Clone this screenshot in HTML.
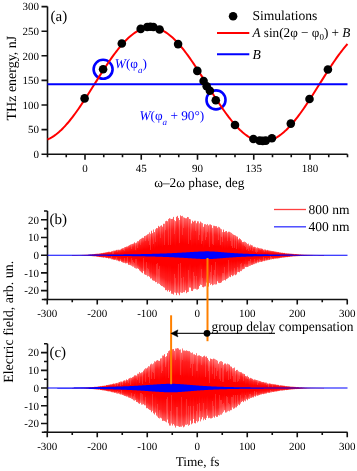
<!DOCTYPE html>
<html><head><meta charset="utf-8"><style>html,body{margin:0;padding:0;background:#fff;width:357px;height:471px;overflow:hidden}svg{display:block;will-change:transform}</style></head>
<body><svg width="357" height="471" viewBox="0 0 357 471" text-rendering="geometricPrecision" font-family='"Liberation Serif", serif'><defs><linearGradient id="rg" x1="0" y1="0" x2="0" y2="1"><stop offset="0" stop-color="#f00" stop-opacity="0.6"/><stop offset="0.15" stop-color="#f00" stop-opacity="0.88"/><stop offset="0.35" stop-color="#f00" stop-opacity="1"/><stop offset="0.65" stop-color="#f00" stop-opacity="1"/><stop offset="0.85" stop-color="#f00" stop-opacity="0.88"/><stop offset="1" stop-color="#f00" stop-opacity="0.6"/></linearGradient></defs>
<path d="M47.5,6.599999999999994 V154.2 H347.5" fill="none" stroke="#111" stroke-width="1.6"/>
<path d="M41.5,154.20 H47.5 M41.5,129.60 H47.5 M41.5,105.00 H47.5 M41.5,80.40 H47.5 M41.5,55.80 H47.5 M41.5,31.20 H47.5 M41.5,6.60 H47.5 M47.50,154.2 v3 M66.25,154.2 v3 M85.00,154.2 v5.5 M103.75,154.2 v3 M122.50,154.2 v3 M141.25,154.2 v5.5 M160.00,154.2 v3 M178.75,154.2 v3 M197.50,154.2 v5.5 M216.25,154.2 v3 M235.00,154.2 v3 M253.75,154.2 v5.5 M272.50,154.2 v3 M291.25,154.2 v3 M310.00,154.2 v5.5 M328.75,154.2 v3 M347.50,154.2 v3" fill="none" stroke="#111" stroke-width="1.6"/>
<text x="39" y="158.00" text-anchor="end" font-size="11">0</text>
<text x="39" y="133.40" text-anchor="end" font-size="11">50</text>
<text x="39" y="108.80" text-anchor="end" font-size="11">100</text>
<text x="39" y="84.20" text-anchor="end" font-size="11">150</text>
<text x="39" y="59.60" text-anchor="end" font-size="11">200</text>
<text x="39" y="35.00" text-anchor="end" font-size="11">250</text>
<text x="39" y="10.40" text-anchor="end" font-size="11">300</text>
<text x="85.00" y="171.5" text-anchor="middle" font-size="11">0</text>
<text x="141.25" y="171.5" text-anchor="middle" font-size="11">45</text>
<text x="197.50" y="171.5" text-anchor="middle" font-size="11">90</text>
<text x="253.75" y="171.5" text-anchor="middle" font-size="11">135</text>
<text x="310.00" y="171.5" text-anchor="middle" font-size="11">180</text>
<text x="50.6" y="20.8" font-size="15">(a)</text>
<text transform="translate(16,78.1) rotate(-90)" text-anchor="middle" font-size="14">THz energy, nJ</text>
<text x="199.3" y="187.4" text-anchor="middle" font-size="13.3">ω–2ω phase, deg</text>
<circle cx="103.1" cy="69.3" r="9.5" fill="none" stroke="#0000ff" stroke-width="2.6"/>
<circle cx="216" cy="99.9" r="9.5" fill="none" stroke="#0000ff" stroke-width="2.6"/>
<polyline points="47.50,139.46 48.75,138.91 50.00,138.30 51.25,137.62 52.50,136.87 53.75,136.06 55.00,135.19 56.25,134.25 57.50,133.26 58.75,132.20 60.00,131.09 61.25,129.92 62.50,128.69 63.75,127.41 65.00,126.08 66.25,124.69 67.50,123.26 68.75,121.78 70.00,120.25 71.25,118.68 72.50,117.07 73.75,115.42 75.00,113.73 76.25,112.01 77.50,110.25 78.75,108.46 80.00,106.64 81.25,104.79 82.50,102.92 83.75,101.02 85.00,99.11 86.25,97.17 87.50,95.23 88.75,93.26 90.00,91.29 91.25,89.31 92.50,87.32 93.75,85.33 95.00,83.34 96.25,81.35 97.50,79.36 98.75,77.38 100.00,75.41 101.25,73.45 102.50,71.50 103.75,69.56 105.00,67.65 106.25,65.76 107.50,63.88 108.75,62.04 110.00,60.22 111.25,58.43 112.50,56.67 113.75,54.94 115.00,53.25 116.25,51.60 117.50,49.99 118.75,48.42 120.00,46.89 121.25,45.41 122.50,43.98 123.75,42.60 125.00,41.26 126.25,39.98 127.50,38.76 128.75,37.59 130.00,36.47 131.25,35.42 132.50,34.42 133.75,33.48 135.00,32.61 136.25,31.80 137.50,31.05 138.75,30.37 140.00,29.76 141.25,29.21 142.50,28.73 143.75,28.31 145.00,27.97 146.25,27.69 147.50,27.48 148.75,27.34 150.00,27.27 151.25,27.27 152.50,27.34 153.75,27.48 155.00,27.69 156.25,27.97 157.50,28.31 158.75,28.73 160.00,29.21 161.25,29.76 162.50,30.37 163.75,31.05 165.00,31.80 166.25,32.61 167.50,33.48 168.75,34.42 170.00,35.42 171.25,36.47 172.50,37.59 173.75,38.76 175.00,39.98 176.25,41.26 177.50,42.60 178.75,43.98 180.00,45.41 181.25,46.89 182.50,48.42 183.75,49.99 185.00,51.60 186.25,53.25 187.50,54.94 188.75,56.67 190.00,58.43 191.25,60.22 192.50,62.04 193.75,63.88 195.00,65.76 196.25,67.65 197.50,69.56 198.75,71.50 200.00,73.45 201.25,75.41 202.50,77.38 203.75,79.36 205.00,81.35 206.25,83.34 207.50,85.33 208.75,87.32 210.00,89.31 211.25,91.29 212.50,93.26 213.75,95.23 215.00,97.17 216.25,99.11 217.50,101.02 218.75,102.92 220.00,104.79 221.25,106.64 222.50,108.46 223.75,110.25 225.00,112.01 226.25,113.73 227.50,115.42 228.75,117.07 230.00,118.68 231.25,120.25 232.50,121.78 233.75,123.26 235.00,124.69 236.25,126.08 237.50,127.41 238.75,128.69 240.00,129.92 241.25,131.09 242.50,132.20 243.75,133.26 245.00,134.25 246.25,135.19 247.50,136.06 248.75,136.87 250.00,137.62 251.25,138.30 252.50,138.91 253.75,139.46 255.00,139.95 256.25,140.36 257.50,140.71 258.75,140.98 260.00,141.19 261.25,141.33 262.50,141.40 263.75,141.40 265.00,141.33 266.25,141.19 267.50,140.98 268.75,140.71 270.00,140.36 271.25,139.95 272.50,139.46 273.75,138.91 275.00,138.30 276.25,137.62 277.50,136.87 278.75,136.06 280.00,135.19 281.25,134.25 282.50,133.26 283.75,132.20 285.00,131.09 286.25,129.92 287.50,128.69 288.75,127.41 290.00,126.08 291.25,124.69 292.50,123.26 293.75,121.78 295.00,120.25 296.25,118.68 297.50,117.07 298.75,115.42 300.00,113.73 301.25,112.01 302.50,110.25 303.75,108.46 305.00,106.64 306.25,104.79 307.50,102.92 308.75,101.02 310.00,99.11 311.25,97.17 312.50,95.23 313.75,93.26 315.00,91.29 316.25,89.31 317.50,87.32 318.75,85.33 320.00,83.34 321.25,81.35 322.50,79.36 323.75,77.38 325.00,75.41 326.25,73.45 327.50,71.50 328.75,69.56 330.00,67.65 331.25,65.76 332.50,63.88 333.75,62.04 335.00,60.22 336.25,58.43 337.50,56.67 338.75,54.94 340.00,53.25 341.25,51.60 342.50,49.99 343.75,48.42 345.00,46.89 346.25,45.41 347.50,43.98" fill="none" stroke="#ff0000" stroke-width="2"/>
<line x1="47.5" y1="84.34" x2="347.5" y2="84.34" stroke="#0000ff" stroke-width="2"/>
<circle cx="84.6" cy="98.4" r="4.3" fill="#000"/>
<circle cx="103.1" cy="69.3" r="4.3" fill="#000"/>
<circle cx="121.8" cy="43.5" r="4.3" fill="#000"/>
<circle cx="140.7" cy="28.9" r="4.3" fill="#000"/>
<circle cx="147.2" cy="27" r="4.3" fill="#000"/>
<circle cx="150.3" cy="26.8" r="4.3" fill="#000"/>
<circle cx="153.4" cy="27" r="4.3" fill="#000"/>
<circle cx="159.6" cy="29.5" r="4.3" fill="#000"/>
<circle cx="178.1" cy="44.1" r="4.3" fill="#000"/>
<circle cx="197.3" cy="70.9" r="4.3" fill="#000"/>
<circle cx="203.6" cy="81" r="4.3" fill="#000"/>
<circle cx="206.7" cy="86.3" r="4.3" fill="#000"/>
<circle cx="209.9" cy="90.8" r="4.3" fill="#000"/>
<circle cx="215.8" cy="100.3" r="4.3" fill="#000"/>
<circle cx="235" cy="125" r="4.3" fill="#000"/>
<circle cx="253.4" cy="139" r="4.3" fill="#000"/>
<circle cx="259.6" cy="140.6" r="4.3" fill="#000"/>
<circle cx="262.7" cy="140.9" r="4.3" fill="#000"/>
<circle cx="265.8" cy="140.6" r="4.3" fill="#000"/>
<circle cx="271.9" cy="138.2" r="4.3" fill="#000"/>
<circle cx="290.8" cy="123.6" r="4.3" fill="#000"/>
<circle cx="309.5" cy="99" r="4.3" fill="#000"/>
<circle cx="327.9" cy="69.5" r="4.3" fill="#000"/>
<text x="114.8" y="67.6" font-size="13.3" fill="#0000ff"><tspan font-style="italic">W</tspan>(φ<tspan font-style="italic" font-size="9" dy="5">a</tspan><tspan dy="-5">)</tspan></text>
<text x="139.4" y="119.5" font-size="13.3" fill="#0000ff"><tspan font-style="italic">W</tspan>(φ<tspan font-style="italic" font-size="9" dy="5">a</tspan><tspan dy="-5"> + 90°)</tspan></text>
<circle cx="233.1" cy="16.2" r="4.3" fill="#000"/>
<text x="252.4" y="20.4" font-size="13.6">Simulations</text>
<line x1="217" y1="32.9" x2="249.3" y2="32.9" stroke="#ff0000" stroke-width="2"/>
<text x="252.4" y="36.6" font-size="13.2"><tspan font-style="italic">A</tspan> sin(2φ − φ<tspan font-size="9" dy="3">0</tspan><tspan dy="-3">) + </tspan><tspan font-style="italic">B</tspan></text>
<line x1="217" y1="54.3" x2="249.3" y2="54.3" stroke="#0000ff" stroke-width="2"/>
<text x="252.4" y="58.6" font-size="13.6" font-style="italic">B</text>
<path d="M47.5,210.95 V299.45 H347.5 M41.8,299.45 H47.5" fill="none" stroke="#111" stroke-width="1.6"/>
<path d="M44.0,299.45 H47.5 M41.0,290.60 H47.5 M44.0,281.75 H47.5 M41.0,272.90 H47.5 M44.0,264.05 H47.5 M41.0,255.20 H47.5 M44.0,246.35 H47.5 M41.0,237.50 H47.5 M44.0,228.65 H47.5 M41.0,219.80 H47.5 M44.0,210.95 H47.5 M47.25,299.45 v5 M72.25,299.45 v2.8 M97.25,299.45 v5 M122.25,299.45 v2.8 M147.25,299.45 v5 M172.25,299.45 v2.8 M197.25,299.45 v5 M222.25,299.45 v2.8 M247.25,299.45 v5 M272.25,299.45 v2.8 M297.25,299.45 v5 M322.25,299.45 v2.8 M347.25,299.45 v5" fill="none" stroke="#111" stroke-width="1.6"/>
<text x="39" y="223.60" text-anchor="end" font-size="11">20</text>
<text x="39" y="241.30" text-anchor="end" font-size="11">10</text>
<text x="39" y="259.00" text-anchor="end" font-size="11">0</text>
<text x="39" y="276.70" text-anchor="end" font-size="11">-10</text>
<text x="39" y="294.40" text-anchor="end" font-size="11">-20</text>
<text x="47.25" y="317.15" text-anchor="middle" font-size="11">-300</text>
<text x="97.25" y="317.15" text-anchor="middle" font-size="11">-200</text>
<text x="147.25" y="317.15" text-anchor="middle" font-size="11">-100</text>
<text x="197.25" y="317.15" text-anchor="middle" font-size="11">0</text>
<text x="247.25" y="317.15" text-anchor="middle" font-size="11">100</text>
<text x="297.25" y="317.15" text-anchor="middle" font-size="11">200</text>
<text x="347.25" y="317.15" text-anchor="middle" font-size="11">300</text>
<text x="49.4" y="223.95" font-size="15">(b)</text>
<g fill="url(#rg)"><rect x="72" y="255.05" width="1" height="0.60"/><rect x="73" y="255.03" width="1" height="0.60"/><rect x="74" y="255.04" width="1" height="0.60"/><rect x="75" y="254.99" width="1" height="0.60"/><rect x="76" y="254.98" width="1" height="0.60"/><rect x="77" y="254.96" width="1" height="0.60"/><rect x="78" y="254.93" width="1" height="0.60"/><rect x="79" y="254.92" width="1" height="0.60"/><rect x="80" y="254.86" width="1" height="0.68"/><rect x="81" y="254.86" width="1" height="0.71"/><rect x="82" y="254.77" width="1" height="0.86"/><rect x="83" y="254.75" width="1" height="0.91"/><rect x="84" y="254.69" width="1" height="1.03"/><rect x="85" y="254.65" width="1" height="1.10"/><rect x="86" y="254.57" width="1" height="1.17"/><rect x="87" y="254.52" width="1" height="1.32"/><rect x="88" y="254.52" width="1" height="1.38"/><rect x="89" y="254.44" width="1" height="1.51"/><rect x="90" y="254.32" width="1" height="1.73"/><rect x="91" y="254.34" width="1" height="1.77"/><rect x="92" y="254.17" width="1" height="2.10"/><rect x="93" y="254.15" width="1" height="2.23"/><rect x="94" y="253.99" width="1" height="2.49"/><rect x="95" y="253.83" width="1" height="2.63"/><rect x="96" y="253.72" width="1" height="2.96"/><rect x="97" y="253.60" width="1" height="3.22"/><rect x="98" y="253.61" width="1" height="3.27"/><rect x="99" y="253.38" width="1" height="3.68"/><rect x="100" y="253.27" width="1" height="3.86"/><rect x="101" y="253.08" width="1" height="4.29"/><rect x="102" y="253.05" width="1" height="4.39"/><rect x="103" y="252.73" width="1" height="5.01"/><rect x="104" y="252.64" width="1" height="4.88"/><rect x="105" y="252.35" width="1" height="5.46"/><rect x="106" y="252.19" width="1" height="5.89"/><rect x="107" y="252.04" width="1" height="5.96"/><rect x="108" y="251.74" width="1" height="6.85"/><rect x="109" y="251.74" width="1" height="6.71"/><rect x="110" y="251.89" width="1" height="6.74"/><rect x="111" y="251.30" width="1" height="8.01"/><rect x="112" y="250.99" width="1" height="8.41"/><rect x="113" y="250.66" width="1" height="9.10"/><rect x="114" y="250.58" width="1" height="9.37"/><rect x="115" y="250.40" width="1" height="9.42"/><rect x="116" y="249.87" width="1" height="10.64"/><rect x="117" y="249.84" width="1" height="10.64"/><rect x="118" y="249.67" width="1" height="11.49"/><rect x="119" y="249.80" width="1" height="11.63"/><rect x="120" y="249.49" width="1" height="11.43"/><rect x="121" y="248.73" width="1" height="13.17"/><rect x="122" y="248.24" width="1" height="14.14"/><rect x="123" y="248.01" width="1" height="14.80"/><rect x="124" y="247.19" width="1" height="15.73"/><rect x="125" y="247.00" width="1" height="16.42"/><rect x="126" y="246.56" width="1" height="16.70"/><rect x="127" y="246.44" width="1" height="16.77"/><rect x="128" y="245.75" width="1" height="19.10"/><rect x="129" y="245.15" width="1" height="19.85"/><rect x="130" y="244.55" width="1" height="20.69"/><rect x="131" y="244.12" width="1" height="21.72"/><rect x="132" y="243.89" width="1" height="22.75"/><rect x="133" y="243.51" width="1" height="23.16"/><rect x="134" y="242.32" width="1" height="25.58"/><rect x="135" y="243.11" width="1" height="25.18"/><rect x="136" y="242.58" width="1" height="26.15"/><rect x="137" y="241.15" width="1" height="27.20"/><rect x="138" y="241.19" width="1" height="27.80"/><rect x="139" y="239.75" width="1" height="30.71"/><rect x="140" y="238.98" width="1" height="32.36"/><rect x="141" y="238.41" width="1" height="33.93"/><rect x="142" y="237.71" width="1" height="35.43"/><rect x="143" y="237.82" width="1" height="33.30"/><rect x="144" y="236.06" width="1" height="38.32"/><rect x="145" y="235.77" width="1" height="39.10"/><rect x="146" y="235.25" width="1" height="39.89"/><rect x="147" y="234.34" width="1" height="42.06"/><rect x="148" y="233.90" width="1" height="42.16"/><rect x="149" y="232.35" width="1" height="44.46"/><rect x="150" y="233.76" width="1" height="44.80"/><rect x="151" y="230.73" width="1" height="47.70"/><rect x="152" y="233.14" width="1" height="47.13"/><rect x="153" y="229.45" width="1" height="51.28"/><rect x="154" y="232.07" width="1" height="48.82"/><rect x="155" y="229.25" width="1" height="52.96"/><rect x="156" y="228.07" width="1" height="53.98"/><rect x="157" y="228.18" width="1" height="55.56"/><rect x="158" y="225.87" width="1" height="57.47"/><rect x="159" y="226.78" width="1" height="57.18"/><rect x="160" y="225.84" width="1" height="59.25"/><rect x="161" y="225.29" width="1" height="60.68"/><rect x="162" y="226.66" width="1" height="59.57"/><rect x="163" y="223.76" width="1" height="63.44"/><rect x="164" y="223.79" width="1" height="63.88"/><rect x="165" y="221.19" width="1" height="68.98"/><rect x="166" y="220.80" width="1" height="69.32"/><rect x="167" y="221.23" width="1" height="70.22"/><rect x="168" y="219.03" width="1" height="71.11"/><rect x="169" y="218.17" width="1" height="73.79"/><rect x="170" y="218.69" width="1" height="72.10"/><rect x="171" y="218.98" width="1" height="74.74"/><rect x="172" y="218.81" width="1" height="74.99"/><rect x="173" y="216.88" width="1" height="77.73"/><rect x="174" y="220.12" width="1" height="72.27"/><rect x="175" y="221.15" width="1" height="71.67"/><rect x="176" y="216.81" width="1" height="78.32"/><rect x="177" y="215.86" width="1" height="76.84"/><rect x="178" y="217.96" width="1" height="75.45"/><rect x="179" y="219.97" width="1" height="75.27"/><rect x="180" y="215.35" width="1" height="76.99"/><rect x="181" y="216.17" width="1" height="76.73"/><rect x="182" y="215.86" width="1" height="76.97"/><rect x="183" y="217.31" width="1" height="74.77"/><rect x="184" y="217.71" width="1" height="74.55"/><rect x="185" y="218.22" width="1" height="72.17"/><rect x="186" y="218.22" width="1" height="74.99"/><rect x="187" y="216.97" width="1" height="75.13"/><rect x="188" y="217.22" width="1" height="74.66"/><rect x="189" y="218.99" width="1" height="68.50"/><rect x="190" y="219.29" width="1" height="68.34"/><rect x="191" y="223.42" width="1" height="67.46"/><rect x="192" y="220.70" width="1" height="70.33"/><rect x="193" y="221.77" width="1" height="67.54"/><rect x="194" y="220.77" width="1" height="68.02"/><rect x="195" y="220.72" width="1" height="68.10"/><rect x="196" y="223.24" width="1" height="66.30"/><rect x="197" y="221.26" width="1" height="68.32"/><rect x="198" y="221.34" width="1" height="67.55"/><rect x="199" y="223.34" width="1" height="62.73"/><rect x="200" y="221.55" width="1" height="63.11"/><rect x="201" y="222.61" width="1" height="62.40"/><rect x="202" y="223.13" width="1" height="63.88"/><rect x="203" y="226.81" width="1" height="60.52"/><rect x="204" y="224.22" width="1" height="62.37"/><rect x="205" y="224.11" width="1" height="62.22"/><rect x="206" y="224.86" width="1" height="57.75"/><rect x="207" y="223.95" width="1" height="61.77"/><rect x="208" y="225.38" width="1" height="61.25"/><rect x="209" y="224.54" width="1" height="58.59"/><rect x="210" y="224.41" width="1" height="60.57"/><rect x="211" y="225.11" width="1" height="58.84"/><rect x="212" y="227.90" width="1" height="57.45"/><rect x="213" y="225.71" width="1" height="59.10"/><rect x="214" y="225.83" width="1" height="58.41"/><rect x="215" y="226.16" width="1" height="58.35"/><rect x="216" y="226.15" width="1" height="58.18"/><rect x="217" y="227.70" width="1" height="53.55"/><rect x="218" y="226.76" width="1" height="56.10"/><rect x="219" y="227.31" width="1" height="55.76"/><rect x="220" y="228.60" width="1" height="54.37"/><rect x="221" y="229.21" width="1" height="53.17"/><rect x="222" y="232.09" width="1" height="48.76"/><rect x="223" y="229.53" width="1" height="50.99"/><rect x="224" y="231.99" width="1" height="47.99"/><rect x="225" y="231.31" width="1" height="49.21"/><rect x="226" y="231.00" width="1" height="48.10"/><rect x="227" y="232.42" width="1" height="46.13"/><rect x="228" y="231.71" width="1" height="46.12"/><rect x="229" y="231.77" width="1" height="44.83"/><rect x="230" y="232.32" width="1" height="44.79"/><rect x="231" y="232.90" width="1" height="42.17"/><rect x="232" y="233.87" width="1" height="42.32"/><rect x="233" y="234.65" width="1" height="40.79"/><rect x="234" y="235.01" width="1" height="39.54"/><rect x="235" y="235.50" width="1" height="39.71"/><rect x="236" y="236.30" width="1" height="38.15"/><rect x="237" y="236.62" width="1" height="35.60"/><rect x="238" y="239.35" width="1" height="32.64"/><rect x="239" y="238.25" width="1" height="34.04"/><rect x="240" y="239.11" width="1" height="31.97"/><rect x="241" y="240.29" width="1" height="30.82"/><rect x="242" y="242.04" width="1" height="27.43"/><rect x="243" y="241.88" width="1" height="27.21"/><rect x="244" y="241.65" width="1" height="27.08"/><rect x="245" y="242.05" width="1" height="24.92"/><rect x="246" y="242.89" width="1" height="24.22"/><rect x="247" y="243.96" width="1" height="23.06"/><rect x="248" y="243.62" width="1" height="22.86"/><rect x="249" y="245.52" width="1" height="20.44"/><rect x="250" y="244.55" width="1" height="21.16"/><rect x="251" y="245.19" width="1" height="19.82"/><rect x="252" y="245.51" width="1" height="19.38"/><rect x="253" y="246.84" width="1" height="17.42"/><rect x="254" y="246.76" width="1" height="17.34"/><rect x="255" y="247.05" width="1" height="16.43"/><rect x="256" y="247.82" width="1" height="15.51"/><rect x="257" y="247.34" width="1" height="15.10"/><rect x="258" y="247.91" width="1" height="14.70"/><rect x="259" y="248.27" width="1" height="13.79"/><rect x="260" y="248.27" width="1" height="13.66"/><rect x="261" y="248.49" width="1" height="13.47"/><rect x="262" y="248.85" width="1" height="12.68"/><rect x="263" y="249.70" width="1" height="11.39"/><rect x="264" y="249.50" width="1" height="11.67"/><rect x="265" y="249.53" width="1" height="11.15"/><rect x="266" y="250.19" width="1" height="10.35"/><rect x="267" y="249.92" width="1" height="10.33"/><rect x="268" y="250.29" width="1" height="9.79"/><rect x="269" y="250.48" width="1" height="9.51"/><rect x="270" y="250.67" width="1" height="8.75"/><rect x="271" y="250.90" width="1" height="8.50"/><rect x="272" y="251.02" width="1" height="8.01"/><rect x="273" y="251.10" width="1" height="8.07"/><rect x="274" y="251.38" width="1" height="7.37"/><rect x="275" y="251.51" width="1" height="7.25"/><rect x="276" y="251.74" width="1" height="6.87"/><rect x="277" y="251.92" width="1" height="6.67"/><rect x="278" y="251.98" width="1" height="6.39"/><rect x="279" y="252.31" width="1" height="5.91"/><rect x="280" y="252.38" width="1" height="5.55"/><rect x="281" y="252.68" width="1" height="5.22"/><rect x="282" y="252.66" width="1" height="4.99"/><rect x="283" y="252.94" width="1" height="4.72"/><rect x="284" y="252.90" width="1" height="4.62"/><rect x="285" y="253.23" width="1" height="4.10"/><rect x="286" y="253.22" width="1" height="3.92"/><rect x="287" y="253.35" width="1" height="3.81"/><rect x="288" y="253.37" width="1" height="3.57"/><rect x="289" y="253.48" width="1" height="3.45"/><rect x="290" y="253.59" width="1" height="3.16"/><rect x="291" y="253.68" width="1" height="3.04"/><rect x="292" y="253.81" width="1" height="2.79"/><rect x="293" y="253.88" width="1" height="2.59"/><rect x="294" y="254.08" width="1" height="2.39"/><rect x="295" y="254.04" width="1" height="2.33"/><rect x="296" y="254.09" width="1" height="2.18"/><rect x="297" y="254.20" width="1" height="2.03"/><rect x="298" y="254.25" width="1" height="1.87"/><rect x="299" y="254.36" width="1" height="1.74"/><rect x="300" y="254.34" width="1" height="1.61"/><rect x="301" y="254.45" width="1" height="1.53"/><rect x="302" y="254.46" width="1" height="1.41"/><rect x="303" y="254.51" width="1" height="1.39"/><rect x="304" y="254.60" width="1" height="1.25"/><rect x="305" y="254.61" width="1" height="1.18"/><rect x="306" y="254.64" width="1" height="1.13"/><rect x="307" y="254.70" width="1" height="1.03"/><rect x="308" y="254.71" width="1" height="0.99"/><rect x="309" y="254.74" width="1" height="0.93"/><rect x="310" y="254.76" width="1" height="0.86"/><rect x="311" y="254.78" width="1" height="0.83"/><rect x="312" y="254.82" width="1" height="0.76"/><rect x="313" y="254.84" width="1" height="0.68"/><rect x="314" y="254.88" width="1" height="0.65"/><rect x="315" y="254.89" width="1" height="0.63"/><rect x="316" y="254.91" width="1" height="0.60"/><rect x="317" y="254.93" width="1" height="0.60"/><rect x="318" y="254.97" width="1" height="0.60"/><rect x="319" y="254.99" width="1" height="0.60"/><rect x="320" y="255.01" width="1" height="0.60"/><rect x="321" y="255.02" width="1" height="0.60"/><rect x="322" y="255.04" width="1" height="0.60"/><rect x="323" y="255.05" width="1" height="0.60"/></g>
<path d="M111.5,259.31v-2.85M112.5,250.99v3.03M113.5,250.66v3.15M116.5,260.51v-3.52M117.5,249.84v2.47M120.5,260.92v-1.69M123.5,248.01v1.98M124.5,247.19v3.41M124.5,262.92v-4.45M127.5,263.20v-6.21M129.5,264.99v-2.65M131.5,244.12v4.83M131.5,265.84v-7.59M132.5,266.64v-6.76M133.5,266.68v-4.80M134.5,267.90v-4.74M135.5,243.11v6.94M135.5,268.29v-9.29M136.5,268.73v-9.92M137.5,241.15v6.53M140.5,238.98v5.98M143.5,271.12v-12.88M145.5,235.77v5.26M146.5,275.13v-13.17M147.5,276.40v-8.45M148.5,233.90v7.21M148.5,276.05v-6.98M149.5,232.35v12.32M150.5,233.76v16.13M153.5,229.45v14.34M155.5,229.25v13.15M156.5,282.05v-17.81M157.5,283.74v-21.24M158.5,283.35v-13.86M159.5,283.97v-18.28M160.5,225.84v12.40M164.5,223.79v21.34M165.5,221.19v9.15M168.5,219.03v26.10M170.5,218.69v26.50M174.5,220.12v14.12M174.5,292.40v-18.08M175.5,292.83v-15.00M178.5,293.42v-29.35M179.5,219.97v22.98M180.5,292.34v-29.00M181.5,292.90v-14.88M182.5,215.86v18.64M183.5,217.31v10.90M183.5,292.08v-15.42M188.5,217.22v26.40M188.5,291.88v-21.49M190.5,219.29v20.69M193.5,289.31v-17.53M194.5,288.78v-12.84M195.5,220.72v10.76M196.5,289.54v-13.66M198.5,221.34v18.93M199.5,223.34v11.45M201.5,222.61v21.48M201.5,285.01v-15.57M202.5,223.13v17.61M202.5,287.01v-8.76M205.5,224.11v15.63M206.5,224.86v11.78M207.5,223.95v8.52M207.5,285.72v-23.63M209.5,224.54v22.78M210.5,284.98v-13.45M211.5,283.95v-18.63M212.5,227.90v16.46M213.5,225.71v18.80M213.5,284.81v-9.83M214.5,284.24v-14.46M215.5,284.51v-22.02M218.5,226.76v13.69M220.5,228.60v15.97M221.5,229.21v7.91M222.5,232.09v10.32M222.5,280.85v-7.49M223.5,280.52v-7.86M224.5,279.98v-13.42M227.5,232.42v8.92M228.5,277.83v-17.99M230.5,232.32v8.26M231.5,232.90v13.17M232.5,233.87v14.50M234.5,235.01v12.91M234.5,274.55v-6.45M236.5,236.30v12.29M237.5,272.22v-4.76M240.5,271.08v-6.66M241.5,271.11v-8.26M244.5,241.65v4.18M244.5,268.73v-4.86M245.5,242.05v5.13M246.5,242.89v6.63M247.5,243.96v5.28M248.5,243.62v7.43M248.5,266.48v-5.87M249.5,265.95v-5.10M250.5,244.55v5.71M250.5,265.71v-6.57M252.5,245.51v5.70M254.5,264.09v-4.78M255.5,247.05v5.05M256.5,247.82v5.65M257.5,247.34v4.88M257.5,262.44v-2.12M259.5,262.06v-3.21M260.5,248.27v2.02M260.5,261.92v-2.17M263.5,261.09v-4.48M264.5,249.50v2.58M265.5,260.68v-2.64M268.5,260.08v-1.61M270.5,259.42v-3.41M271.5,259.40v-2.02" stroke="#fff" stroke-opacity="0.18" stroke-width="0.8" shape-rendering="crispEdges"/>
<polygon points="47.50,254.71 48.00,254.71 48.50,254.71 49.00,254.71 49.50,254.71 50.00,254.71 50.50,254.71 51.00,254.71 51.50,254.71 52.00,254.71 52.50,254.71 53.00,254.71 53.50,254.71 54.00,254.71 54.50,254.71 55.00,254.71 55.50,254.71 56.00,254.70 56.50,254.70 57.00,254.70 57.50,254.70 58.00,254.70 58.50,254.70 59.00,254.70 59.50,254.70 60.00,254.70 60.50,254.70 61.00,254.70 61.50,254.70 62.00,254.69 62.50,254.69 63.00,254.69 63.50,254.69 64.00,254.69 64.50,254.69 65.00,254.69 65.50,254.69 66.00,254.69 66.50,254.69 67.00,254.69 67.50,254.68 68.00,254.68 68.50,254.68 69.00,254.68 69.50,254.68 70.00,254.68 70.50,254.68 71.00,254.68 71.50,254.68 72.00,254.67 72.50,254.67 73.00,254.67 73.50,254.67 74.00,254.67 74.50,254.67 75.00,254.67 75.50,254.67 76.00,254.67 76.50,254.66 77.00,254.66 77.50,254.66 78.00,254.66 78.50,254.66 79.00,254.66 79.50,254.66 80.00,254.65 80.50,254.65 81.00,254.65 81.50,254.65 82.00,254.65 82.50,254.65 83.00,254.64 83.50,254.64 84.00,254.64 84.50,254.64 85.00,254.64 85.50,254.64 86.00,254.63 86.50,254.63 87.00,254.63 87.50,254.63 88.00,254.63 88.50,254.62 89.00,254.62 89.50,254.62 90.00,254.62 90.50,254.62 91.00,254.61 91.50,254.61 92.00,254.61 92.50,254.61 93.00,254.61 93.50,254.60 94.00,254.60 94.50,254.60 95.00,254.60 95.50,254.59 96.00,254.59 96.50,254.59 97.00,254.59 97.50,254.58 98.00,254.58 98.50,254.58 99.00,254.58 99.50,254.57 100.00,254.57 100.50,254.57 101.00,254.57 101.50,254.56 102.00,254.56 102.50,254.56 103.00,254.55 103.50,254.55 104.00,254.55 104.50,254.54 105.00,254.54 105.50,254.54 106.00,254.53 106.50,254.53 107.00,254.53 107.50,254.52 108.00,254.52 108.50,254.52 109.00,254.51 109.50,254.51 110.00,254.51 110.50,254.50 111.00,254.50 111.50,254.49 112.00,254.49 112.50,254.49 113.00,254.48 113.50,254.48 114.00,254.47 114.50,254.47 115.00,254.47 115.50,254.46 116.00,254.46 116.50,254.45 117.00,254.45 117.50,254.44 118.00,254.44 118.50,254.43 119.00,254.43 119.50,254.42 120.00,254.42 120.50,254.41 121.00,254.41 121.50,254.40 122.00,254.40 122.50,254.39 123.00,254.39 123.50,254.38 124.00,254.37 124.50,254.37 125.00,254.36 125.50,254.36 126.00,254.35 126.50,254.34 127.00,254.34 127.50,254.33 128.00,254.32 128.50,254.32 129.00,254.31 129.50,254.30 130.00,254.30 130.50,254.29 131.00,254.28 131.50,254.28 132.00,254.27 132.50,254.26 133.00,254.25 133.50,254.25 134.00,254.24 134.50,254.23 135.00,254.22 135.50,254.21 136.00,254.21 136.50,254.20 137.00,254.19 137.50,254.18 138.00,254.17 138.50,254.16 139.00,254.15 139.50,254.14 140.00,254.14 140.50,254.13 141.00,254.12 141.50,254.11 142.00,254.10 142.50,254.09 143.00,254.08 143.50,254.07 144.00,254.06 144.50,254.04 145.00,254.03 145.50,254.02 146.00,254.01 146.50,254.00 147.00,253.99 147.50,253.98 148.00,253.97 148.50,253.95 149.00,253.94 149.50,253.93 150.00,253.92 150.50,253.90 151.00,253.89 151.50,253.88 152.00,253.86 152.50,253.85 153.00,253.84 153.50,253.82 154.00,253.81 154.50,253.79 155.00,253.78 155.50,253.77 156.00,253.75 156.50,253.74 157.00,253.72 157.50,253.70 158.00,253.69 158.50,253.67 159.00,253.66 159.50,253.64 160.00,253.62 160.50,253.61 161.00,253.59 161.50,253.57 162.00,253.55 162.50,253.54 163.00,253.52 163.50,253.50 164.00,253.48 164.50,253.46 165.00,253.44 165.50,253.42 166.00,253.40 166.50,253.38 167.00,253.36 167.50,253.34 168.00,253.32 168.50,253.30 169.00,253.28 169.50,253.26 170.00,253.23 170.50,253.21 171.00,253.19 171.50,253.17 172.00,253.14 172.50,253.12 173.00,253.10 173.50,253.07 174.00,253.05 174.50,253.02 175.00,253.00 175.50,252.97 176.00,252.95 176.50,252.92 177.00,252.89 177.50,252.87 178.00,252.84 178.50,252.81 179.00,252.79 179.50,252.76 180.00,252.73 180.50,252.70 181.00,252.67 181.50,252.65 182.00,252.62 182.50,252.59 183.00,252.56 183.50,252.53 184.00,252.50 184.50,252.47 185.00,252.44 185.50,252.41 186.00,252.38 186.50,252.34 187.00,252.31 187.50,252.28 188.00,252.25 188.50,252.22 189.00,252.19 189.50,252.15 190.00,252.12 190.50,252.09 191.00,252.06 191.50,252.03 192.00,252.00 192.50,251.96 193.00,251.93 193.50,251.90 194.00,251.87 194.50,251.84 195.00,251.81 195.50,251.78 196.00,251.75 196.50,251.72 197.00,251.69 197.50,251.66 198.00,251.64 198.50,251.61 199.00,251.58 199.50,251.56 200.00,251.53 200.50,251.51 201.00,251.49 201.50,251.47 202.00,251.45 202.50,251.43 203.00,251.42 203.50,251.40 204.00,251.39 204.50,251.38 205.00,251.37 205.50,251.36 206.00,251.36 206.50,251.35 207.00,251.35 207.50,251.35 208.00,251.35 208.50,251.36 209.00,251.37 209.50,251.38 210.00,251.39 210.50,251.41 211.00,251.42 211.50,251.44 212.00,251.47 212.50,251.49 213.00,251.52 213.50,251.55 214.00,251.58 214.50,251.61 215.00,251.64 215.50,251.68 216.00,251.71 216.50,251.75 217.00,251.79 217.50,251.83 218.00,251.87 218.50,251.91 219.00,251.95 219.50,251.99 220.00,252.03 220.50,252.07 221.00,252.11 221.50,252.15 222.00,252.20 222.50,252.24 223.00,252.28 223.50,252.32 224.00,252.36 224.50,252.41 225.00,252.45 225.50,252.49 226.00,252.53 226.50,252.57 227.00,252.61 227.50,252.65 228.00,252.69 228.50,252.73 229.00,252.76 229.50,252.80 230.00,252.84 230.50,252.88 231.00,252.91 231.50,252.95 232.00,252.98 232.50,253.02 233.00,253.05 233.50,253.08 234.00,253.12 234.50,253.15 235.00,253.18 235.50,253.21 236.00,253.25 236.50,253.28 237.00,253.31 237.50,253.34 238.00,253.36 238.50,253.39 239.00,253.42 239.50,253.45 240.00,253.47 240.50,253.50 241.00,253.53 241.50,253.55 242.00,253.58 242.50,253.60 243.00,253.63 243.50,253.65 244.00,253.67 244.50,253.70 245.00,253.72 245.50,253.74 246.00,253.76 246.50,253.78 247.00,253.80 247.50,253.82 248.00,253.84 248.50,253.86 249.00,253.88 249.50,253.90 250.00,253.92 250.50,253.93 251.00,253.95 251.50,253.97 252.00,253.99 252.50,254.00 253.00,254.02 253.50,254.03 254.00,254.05 254.50,254.06 255.00,254.08 255.50,254.09 256.00,254.11 256.50,254.12 257.00,254.14 257.50,254.15 258.00,254.16 258.50,254.17 259.00,254.19 259.50,254.20 260.00,254.21 260.50,254.22 261.00,254.23 261.50,254.25 262.00,254.26 262.50,254.27 263.00,254.28 263.50,254.29 264.00,254.30 264.50,254.31 265.00,254.32 265.50,254.33 266.00,254.34 266.50,254.35 267.00,254.35 267.50,254.36 268.00,254.37 268.50,254.38 269.00,254.39 269.50,254.40 270.00,254.40 270.50,254.41 271.00,254.42 271.50,254.43 272.00,254.43 272.50,254.44 273.00,254.45 273.50,254.45 274.00,254.46 274.50,254.47 275.00,254.47 275.50,254.48 276.00,254.48 276.50,254.49 277.00,254.50 277.50,254.50 278.00,254.51 278.50,254.51 279.00,254.52 279.50,254.52 280.00,254.53 280.50,254.53 281.00,254.54 281.50,254.54 282.00,254.55 282.50,254.55 283.00,254.56 283.50,254.56 284.00,254.56 284.50,254.57 285.00,254.57 285.50,254.58 286.00,254.58 286.50,254.58 287.00,254.59 287.50,254.59 288.00,254.59 288.50,254.60 289.00,254.60 289.50,254.60 290.00,254.61 290.50,254.61 291.00,254.61 291.50,254.62 292.00,254.62 292.50,254.62 293.00,254.63 293.50,254.63 294.00,254.63 294.50,254.63 295.00,254.64 295.50,254.64 296.00,254.64 296.50,254.64 297.00,254.65 297.50,254.65 298.00,254.65 298.50,254.65 299.00,254.66 299.50,254.66 300.00,254.66 300.50,254.66 301.00,254.66 301.50,254.67 302.00,254.67 302.50,254.67 303.00,254.67 303.50,254.67 304.00,254.67 304.50,254.68 305.00,254.68 305.50,254.68 306.00,254.68 306.50,254.68 307.00,254.68 307.50,254.69 308.00,254.69 308.50,254.69 309.00,254.69 309.50,254.69 310.00,254.69 310.50,254.69 311.00,254.69 311.50,254.70 312.00,254.70 312.50,254.70 313.00,254.70 313.50,254.70 314.00,254.70 314.50,254.70 315.00,254.70 315.50,254.70 316.00,254.71 316.50,254.71 317.00,254.71 317.50,254.71 318.00,254.71 318.50,254.71 319.00,254.71 319.50,254.71 320.00,254.71 320.50,254.71 321.00,254.71 321.50,254.72 322.00,254.72 322.50,254.72 323.00,254.72 323.50,254.72 324.00,254.72 324.50,254.72 325.00,254.72 325.50,254.72 326.00,254.72 326.50,254.72 327.00,254.72 327.50,254.72 328.00,254.72 328.50,254.72 329.00,254.73 329.50,254.73 330.00,254.73 330.50,254.73 331.00,254.73 331.50,254.73 332.00,254.73 332.50,254.73 333.00,254.73 333.50,254.73 334.00,254.73 334.50,254.73 335.00,254.73 335.50,254.73 336.00,254.73 336.50,254.73 337.00,254.73 337.50,254.73 338.00,254.73 338.50,254.73 339.00,254.73 339.50,254.73 340.00,254.74 340.50,254.74 341.00,254.74 341.50,254.74 342.00,254.74 342.50,254.74 343.00,254.74 343.50,254.74 344.00,254.74 344.50,254.74 345.00,254.74 345.50,254.74 346.00,254.74 346.50,254.74 347.00,254.74 347.50,254.74 347.50,255.66 347.00,255.66 346.50,255.66 346.00,255.66 345.50,255.66 345.00,255.66 344.50,255.66 344.00,255.66 343.50,255.66 343.00,255.66 342.50,255.66 342.00,255.66 341.50,255.66 341.00,255.66 340.50,255.66 340.00,255.66 339.50,255.67 339.00,255.67 338.50,255.67 338.00,255.67 337.50,255.67 337.00,255.67 336.50,255.67 336.00,255.67 335.50,255.67 335.00,255.67 334.50,255.67 334.00,255.67 333.50,255.67 333.00,255.67 332.50,255.67 332.00,255.67 331.50,255.67 331.00,255.67 330.50,255.67 330.00,255.67 329.50,255.67 329.00,255.67 328.50,255.68 328.00,255.68 327.50,255.68 327.00,255.68 326.50,255.68 326.00,255.68 325.50,255.68 325.00,255.68 324.50,255.68 324.00,255.68 323.50,255.68 323.00,255.68 322.50,255.68 322.00,255.68 321.50,255.68 321.00,255.69 320.50,255.69 320.00,255.69 319.50,255.69 319.00,255.69 318.50,255.69 318.00,255.69 317.50,255.69 317.00,255.69 316.50,255.69 316.00,255.69 315.50,255.70 315.00,255.70 314.50,255.70 314.00,255.70 313.50,255.70 313.00,255.70 312.50,255.70 312.00,255.70 311.50,255.70 311.00,255.71 310.50,255.71 310.00,255.71 309.50,255.71 309.00,255.71 308.50,255.71 308.00,255.71 307.50,255.71 307.00,255.72 306.50,255.72 306.00,255.72 305.50,255.72 305.00,255.72 304.50,255.72 304.00,255.73 303.50,255.73 303.00,255.73 302.50,255.73 302.00,255.73 301.50,255.73 301.00,255.74 300.50,255.74 300.00,255.74 299.50,255.74 299.00,255.74 298.50,255.75 298.00,255.75 297.50,255.75 297.00,255.75 296.50,255.76 296.00,255.76 295.50,255.76 295.00,255.76 294.50,255.77 294.00,255.77 293.50,255.77 293.00,255.77 292.50,255.78 292.00,255.78 291.50,255.78 291.00,255.79 290.50,255.79 290.00,255.79 289.50,255.80 289.00,255.80 288.50,255.80 288.00,255.81 287.50,255.81 287.00,255.81 286.50,255.82 286.00,255.82 285.50,255.82 285.00,255.83 284.50,255.83 284.00,255.84 283.50,255.84 283.00,255.84 282.50,255.85 282.00,255.85 281.50,255.86 281.00,255.86 280.50,255.87 280.00,255.87 279.50,255.88 279.00,255.88 278.50,255.89 278.00,255.89 277.50,255.90 277.00,255.90 276.50,255.91 276.00,255.92 275.50,255.92 275.00,255.93 274.50,255.93 274.00,255.94 273.50,255.95 273.00,255.95 272.50,255.96 272.00,255.97 271.50,255.97 271.00,255.98 270.50,255.99 270.00,256.00 269.50,256.00 269.00,256.01 268.50,256.02 268.00,256.03 267.50,256.04 267.00,256.05 266.50,256.05 266.00,256.06 265.50,256.07 265.00,256.08 264.50,256.09 264.00,256.10 263.50,256.11 263.00,256.12 262.50,256.13 262.00,256.14 261.50,256.15 261.00,256.17 260.50,256.18 260.00,256.19 259.50,256.20 259.00,256.21 258.50,256.23 258.00,256.24 257.50,256.25 257.00,256.26 256.50,256.28 256.00,256.29 255.50,256.31 255.00,256.32 254.50,256.34 254.00,256.35 253.50,256.37 253.00,256.38 252.50,256.40 252.00,256.41 251.50,256.43 251.00,256.45 250.50,256.47 250.00,256.48 249.50,256.50 249.00,256.52 248.50,256.54 248.00,256.56 247.50,256.58 247.00,256.60 246.50,256.62 246.00,256.64 245.50,256.66 245.00,256.68 244.50,256.70 244.00,256.73 243.50,256.75 243.00,256.77 242.50,256.80 242.00,256.82 241.50,256.85 241.00,256.87 240.50,256.90 240.00,256.93 239.50,256.95 239.00,256.98 238.50,257.01 238.00,257.04 237.50,257.06 237.00,257.09 236.50,257.12 236.00,257.15 235.50,257.19 235.00,257.22 234.50,257.25 234.00,257.28 233.50,257.32 233.00,257.35 232.50,257.38 232.00,257.42 231.50,257.45 231.00,257.49 230.50,257.52 230.00,257.56 229.50,257.60 229.00,257.64 228.50,257.67 228.00,257.71 227.50,257.75 227.00,257.79 226.50,257.83 226.00,257.87 225.50,257.91 225.00,257.95 224.50,257.99 224.00,258.04 223.50,258.08 223.00,258.12 222.50,258.16 222.00,258.20 221.50,258.25 221.00,258.29 220.50,258.33 220.00,258.37 219.50,258.41 219.00,258.45 218.50,258.49 218.00,258.53 217.50,258.57 217.00,258.61 216.50,258.65 216.00,258.69 215.50,258.72 215.00,258.76 214.50,258.79 214.00,258.82 213.50,258.85 213.00,258.88 212.50,258.91 212.00,258.93 211.50,258.96 211.00,258.98 210.50,258.99 210.00,259.01 209.50,259.02 209.00,259.03 208.50,259.04 208.00,259.05 207.50,259.05 207.00,259.05 206.50,259.05 206.00,259.04 205.50,259.04 205.00,259.03 204.50,259.02 204.00,259.01 203.50,259.00 203.00,258.98 202.50,258.97 202.00,258.95 201.50,258.93 201.00,258.91 200.50,258.89 200.00,258.87 199.50,258.84 199.00,258.82 198.50,258.79 198.00,258.76 197.50,258.74 197.00,258.71 196.50,258.68 196.00,258.65 195.50,258.62 195.00,258.59 194.50,258.56 194.00,258.53 193.50,258.50 193.00,258.47 192.50,258.44 192.00,258.40 191.50,258.37 191.00,258.34 190.50,258.31 190.00,258.28 189.50,258.25 189.00,258.21 188.50,258.18 188.00,258.15 187.50,258.12 187.00,258.09 186.50,258.06 186.00,258.02 185.50,257.99 185.00,257.96 184.50,257.93 184.00,257.90 183.50,257.87 183.00,257.84 182.50,257.81 182.00,257.78 181.50,257.75 181.00,257.73 180.50,257.70 180.00,257.67 179.50,257.64 179.00,257.61 178.50,257.59 178.00,257.56 177.50,257.53 177.00,257.51 176.50,257.48 176.00,257.45 175.50,257.43 175.00,257.40 174.50,257.38 174.00,257.35 173.50,257.33 173.00,257.30 172.50,257.28 172.00,257.26 171.50,257.23 171.00,257.21 170.50,257.19 170.00,257.17 169.50,257.14 169.00,257.12 168.50,257.10 168.00,257.08 167.50,257.06 167.00,257.04 166.50,257.02 166.00,257.00 165.50,256.98 165.00,256.96 164.50,256.94 164.00,256.92 163.50,256.90 163.00,256.88 162.50,256.86 162.00,256.85 161.50,256.83 161.00,256.81 160.50,256.79 160.00,256.78 159.50,256.76 159.00,256.74 158.50,256.73 158.00,256.71 157.50,256.70 157.00,256.68 156.50,256.66 156.00,256.65 155.50,256.63 155.00,256.62 154.50,256.61 154.00,256.59 153.50,256.58 153.00,256.56 152.50,256.55 152.00,256.54 151.50,256.52 151.00,256.51 150.50,256.50 150.00,256.48 149.50,256.47 149.00,256.46 148.50,256.45 148.00,256.43 147.50,256.42 147.00,256.41 146.50,256.40 146.00,256.39 145.50,256.38 145.00,256.37 144.50,256.36 144.00,256.34 143.50,256.33 143.00,256.32 142.50,256.31 142.00,256.30 141.50,256.29 141.00,256.28 140.50,256.27 140.00,256.26 139.50,256.26 139.00,256.25 138.50,256.24 138.00,256.23 137.50,256.22 137.00,256.21 136.50,256.20 136.00,256.19 135.50,256.19 135.00,256.18 134.50,256.17 134.00,256.16 133.50,256.15 133.00,256.15 132.50,256.14 132.00,256.13 131.50,256.12 131.00,256.12 130.50,256.11 130.00,256.10 129.50,256.10 129.00,256.09 128.50,256.08 128.00,256.08 127.50,256.07 127.00,256.06 126.50,256.06 126.00,256.05 125.50,256.04 125.00,256.04 124.50,256.03 124.00,256.03 123.50,256.02 123.00,256.01 122.50,256.01 122.00,256.00 121.50,256.00 121.00,255.99 120.50,255.99 120.00,255.98 119.50,255.98 119.00,255.97 118.50,255.97 118.00,255.96 117.50,255.96 117.00,255.95 116.50,255.95 116.00,255.94 115.50,255.94 115.00,255.93 114.50,255.93 114.00,255.93 113.50,255.92 113.00,255.92 112.50,255.91 112.00,255.91 111.50,255.91 111.00,255.90 110.50,255.90 110.00,255.89 109.50,255.89 109.00,255.89 108.50,255.88 108.00,255.88 107.50,255.88 107.00,255.87 106.50,255.87 106.00,255.87 105.50,255.86 105.00,255.86 104.50,255.86 104.00,255.85 103.50,255.85 103.00,255.85 102.50,255.84 102.00,255.84 101.50,255.84 101.00,255.83 100.50,255.83 100.00,255.83 99.50,255.83 99.00,255.82 98.50,255.82 98.00,255.82 97.50,255.82 97.00,255.81 96.50,255.81 96.00,255.81 95.50,255.81 95.00,255.80 94.50,255.80 94.00,255.80 93.50,255.80 93.00,255.79 92.50,255.79 92.00,255.79 91.50,255.79 91.00,255.79 90.50,255.78 90.00,255.78 89.50,255.78 89.00,255.78 88.50,255.78 88.00,255.77 87.50,255.77 87.00,255.77 86.50,255.77 86.00,255.77 85.50,255.76 85.00,255.76 84.50,255.76 84.00,255.76 83.50,255.76 83.00,255.76 82.50,255.75 82.00,255.75 81.50,255.75 81.00,255.75 80.50,255.75 80.00,255.75 79.50,255.74 79.00,255.74 78.50,255.74 78.00,255.74 77.50,255.74 77.00,255.74 76.50,255.74 76.00,255.73 75.50,255.73 75.00,255.73 74.50,255.73 74.00,255.73 73.50,255.73 73.00,255.73 72.50,255.73 72.00,255.73 71.50,255.72 71.00,255.72 70.50,255.72 70.00,255.72 69.50,255.72 69.00,255.72 68.50,255.72 68.00,255.72 67.50,255.72 67.00,255.71 66.50,255.71 66.00,255.71 65.50,255.71 65.00,255.71 64.50,255.71 64.00,255.71 63.50,255.71 63.00,255.71 62.50,255.71 62.00,255.71 61.50,255.70 61.00,255.70 60.50,255.70 60.00,255.70 59.50,255.70 59.00,255.70 58.50,255.70 58.00,255.70 57.50,255.70 57.00,255.70 56.50,255.70 56.00,255.70 55.50,255.69 55.00,255.69 54.50,255.69 54.00,255.69 53.50,255.69 53.00,255.69 52.50,255.69 52.00,255.69 51.50,255.69 51.00,255.69 50.50,255.69 50.00,255.69 49.50,255.69 49.00,255.69 48.50,255.69 48.00,255.69 47.50,255.69" fill="#0000ff"/>
<path d="M47.5,343.80 V432.30 H347.5 M41.8,432.30 H47.5" fill="none" stroke="#111" stroke-width="1.6"/>
<path d="M44.0,432.30 H47.5 M41.0,423.45 H47.5 M44.0,414.60 H47.5 M41.0,405.75 H47.5 M44.0,396.90 H47.5 M41.0,388.05 H47.5 M44.0,379.20 H47.5 M41.0,370.35 H47.5 M44.0,361.50 H47.5 M41.0,352.65 H47.5 M44.0,343.80 H47.5 M47.25,432.30 v5 M72.25,432.30 v2.8 M97.25,432.30 v5 M122.25,432.30 v2.8 M147.25,432.30 v5 M172.25,432.30 v2.8 M197.25,432.30 v5 M222.25,432.30 v2.8 M247.25,432.30 v5 M272.25,432.30 v2.8 M297.25,432.30 v5 M322.25,432.30 v2.8 M347.25,432.30 v5" fill="none" stroke="#111" stroke-width="1.6"/>
<text x="39" y="356.45" text-anchor="end" font-size="11">20</text>
<text x="39" y="374.15" text-anchor="end" font-size="11">10</text>
<text x="39" y="391.85" text-anchor="end" font-size="11">0</text>
<text x="39" y="409.55" text-anchor="end" font-size="11">-10</text>
<text x="39" y="427.25" text-anchor="end" font-size="11">-20</text>
<text x="47.25" y="450.00" text-anchor="middle" font-size="11">-300</text>
<text x="97.25" y="450.00" text-anchor="middle" font-size="11">-200</text>
<text x="147.25" y="450.00" text-anchor="middle" font-size="11">-100</text>
<text x="197.25" y="450.00" text-anchor="middle" font-size="11">0</text>
<text x="247.25" y="450.00" text-anchor="middle" font-size="11">100</text>
<text x="297.25" y="450.00" text-anchor="middle" font-size="11">200</text>
<text x="347.25" y="450.00" text-anchor="middle" font-size="11">300</text>
<text x="49.4" y="356.80" font-size="15">(c)</text>
<g fill="url(#rg)"><rect x="72" y="387.90" width="1" height="0.60"/><rect x="73" y="387.89" width="1" height="0.60"/><rect x="74" y="387.87" width="1" height="0.60"/><rect x="75" y="387.85" width="1" height="0.60"/><rect x="76" y="387.84" width="1" height="0.60"/><rect x="77" y="387.83" width="1" height="0.60"/><rect x="78" y="387.78" width="1" height="0.60"/><rect x="79" y="387.77" width="1" height="0.60"/><rect x="80" y="387.75" width="1" height="0.60"/><rect x="81" y="387.67" width="1" height="0.76"/><rect x="82" y="387.62" width="1" height="0.85"/><rect x="83" y="387.60" width="1" height="0.86"/><rect x="84" y="387.53" width="1" height="1.03"/><rect x="85" y="387.55" width="1" height="1.04"/><rect x="86" y="387.44" width="1" height="1.23"/><rect x="87" y="387.41" width="1" height="1.33"/><rect x="88" y="387.31" width="1" height="1.45"/><rect x="89" y="387.24" width="1" height="1.63"/><rect x="90" y="387.16" width="1" height="1.77"/><rect x="91" y="387.19" width="1" height="1.83"/><rect x="92" y="387.01" width="1" height="2.06"/><rect x="93" y="387.02" width="1" height="2.14"/><rect x="94" y="386.76" width="1" height="2.57"/><rect x="95" y="386.73" width="1" height="2.70"/><rect x="96" y="386.72" width="1" height="2.85"/><rect x="97" y="386.58" width="1" height="3.04"/><rect x="98" y="386.31" width="1" height="3.44"/><rect x="99" y="386.25" width="1" height="3.41"/><rect x="100" y="386.08" width="1" height="3.94"/><rect x="101" y="386.11" width="1" height="3.96"/><rect x="102" y="385.84" width="1" height="4.55"/><rect x="103" y="385.78" width="1" height="4.68"/><rect x="104" y="385.56" width="1" height="5.08"/><rect x="105" y="385.55" width="1" height="5.21"/><rect x="106" y="385.00" width="1" height="6.01"/><rect x="107" y="384.97" width="1" height="6.27"/><rect x="108" y="384.76" width="1" height="6.69"/><rect x="109" y="384.57" width="1" height="6.90"/><rect x="110" y="384.26" width="1" height="7.45"/><rect x="111" y="384.21" width="1" height="7.94"/><rect x="112" y="383.91" width="1" height="8.41"/><rect x="113" y="383.45" width="1" height="8.96"/><rect x="114" y="383.66" width="1" height="9.22"/><rect x="115" y="383.19" width="1" height="9.64"/><rect x="116" y="382.95" width="1" height="10.48"/><rect x="117" y="382.90" width="1" height="10.80"/><rect x="118" y="382.34" width="1" height="11.19"/><rect x="119" y="381.98" width="1" height="12.13"/><rect x="120" y="381.57" width="1" height="12.92"/><rect x="121" y="381.49" width="1" height="13.05"/><rect x="122" y="381.64" width="1" height="13.33"/><rect x="123" y="380.66" width="1" height="14.65"/><rect x="124" y="380.26" width="1" height="15.66"/><rect x="125" y="380.54" width="1" height="15.57"/><rect x="126" y="379.39" width="1" height="17.26"/><rect x="127" y="380.00" width="1" height="16.57"/><rect x="128" y="378.79" width="1" height="18.72"/><rect x="129" y="378.16" width="1" height="19.66"/><rect x="130" y="377.73" width="1" height="20.35"/><rect x="131" y="377.91" width="1" height="20.93"/><rect x="132" y="377.12" width="1" height="22.07"/><rect x="133" y="376.59" width="1" height="23.67"/><rect x="134" y="375.37" width="1" height="25.33"/><rect x="135" y="375.28" width="1" height="24.88"/><rect x="136" y="375.57" width="1" height="26.39"/><rect x="137" y="373.71" width="1" height="28.48"/><rect x="138" y="373.72" width="1" height="29.56"/><rect x="139" y="372.05" width="1" height="31.81"/><rect x="140" y="373.14" width="1" height="29.74"/><rect x="141" y="372.43" width="1" height="32.21"/><rect x="142" y="372.15" width="1" height="32.33"/><rect x="143" y="370.64" width="1" height="33.56"/><rect x="144" y="369.28" width="1" height="35.98"/><rect x="145" y="368.17" width="1" height="37.16"/><rect x="146" y="368.46" width="1" height="39.75"/><rect x="147" y="367.56" width="1" height="40.59"/><rect x="148" y="366.10" width="1" height="42.97"/><rect x="149" y="366.42" width="1" height="43.42"/><rect x="150" y="364.40" width="1" height="45.88"/><rect x="151" y="363.66" width="1" height="48.53"/><rect x="152" y="364.24" width="1" height="46.59"/><rect x="153" y="363.33" width="1" height="49.92"/><rect x="154" y="361.30" width="1" height="53.21"/><rect x="155" y="361.65" width="1" height="50.94"/><rect x="156" y="360.63" width="1" height="54.92"/><rect x="157" y="360.10" width="1" height="56.57"/><rect x="158" y="360.67" width="1" height="57.29"/><rect x="159" y="360.90" width="1" height="57.61"/><rect x="160" y="358.48" width="1" height="59.26"/><rect x="161" y="358.18" width="1" height="60.22"/><rect x="162" y="355.58" width="1" height="65.32"/><rect x="163" y="355.61" width="1" height="65.11"/><rect x="164" y="354.15" width="1" height="66.78"/><rect x="165" y="356.97" width="1" height="64.64"/><rect x="166" y="356.16" width="1" height="66.12"/><rect x="167" y="353.07" width="1" height="66.39"/><rect x="168" y="351.10" width="1" height="72.20"/><rect x="169" y="350.44" width="1" height="75.12"/><rect x="170" y="351.41" width="1" height="74.19"/><rect x="171" y="349.58" width="1" height="73.97"/><rect x="172" y="349.23" width="1" height="76.28"/><rect x="173" y="348.99" width="1" height="75.09"/><rect x="174" y="350.83" width="1" height="74.70"/><rect x="175" y="348.55" width="1" height="78.99"/><rect x="176" y="348.53" width="1" height="77.27"/><rect x="177" y="348.07" width="1" height="77.91"/><rect x="178" y="348.47" width="1" height="77.84"/><rect x="179" y="349.74" width="1" height="77.19"/><rect x="180" y="349.51" width="1" height="77.15"/><rect x="181" y="352.72" width="1" height="74.09"/><rect x="182" y="348.51" width="1" height="77.17"/><rect x="183" y="350.50" width="1" height="76.81"/><rect x="184" y="350.53" width="1" height="76.00"/><rect x="185" y="350.83" width="1" height="73.89"/><rect x="186" y="350.35" width="1" height="74.60"/><rect x="187" y="350.90" width="1" height="73.46"/><rect x="188" y="351.16" width="1" height="74.66"/><rect x="189" y="351.16" width="1" height="73.75"/><rect x="190" y="352.32" width="1" height="68.34"/><rect x="191" y="352.91" width="1" height="71.39"/><rect x="192" y="352.51" width="1" height="70.82"/><rect x="193" y="354.32" width="1" height="64.69"/><rect x="194" y="354.28" width="1" height="68.81"/><rect x="195" y="355.11" width="1" height="68.34"/><rect x="196" y="353.16" width="1" height="67.79"/><rect x="197" y="355.77" width="1" height="66.59"/><rect x="198" y="355.43" width="1" height="65.78"/><rect x="199" y="355.35" width="1" height="62.00"/><rect x="200" y="355.98" width="1" height="65.37"/><rect x="201" y="356.38" width="1" height="62.96"/><rect x="202" y="357.11" width="1" height="60.06"/><rect x="203" y="356.24" width="1" height="64.05"/><rect x="204" y="355.68" width="1" height="63.01"/><rect x="205" y="356.81" width="1" height="63.19"/><rect x="206" y="356.38" width="1" height="61.54"/><rect x="207" y="358.03" width="1" height="57.64"/><rect x="208" y="359.80" width="1" height="58.37"/><rect x="209" y="361.19" width="1" height="56.65"/><rect x="210" y="358.53" width="1" height="59.88"/><rect x="211" y="358.99" width="1" height="59.36"/><rect x="212" y="359.24" width="1" height="58.66"/><rect x="213" y="358.60" width="1" height="58.04"/><rect x="214" y="358.87" width="1" height="58.81"/><rect x="215" y="359.51" width="1" height="56.29"/><rect x="216" y="359.95" width="1" height="56.92"/><rect x="217" y="360.75" width="1" height="56.05"/><rect x="218" y="363.60" width="1" height="51.55"/><rect x="219" y="361.84" width="1" height="53.69"/><rect x="220" y="361.16" width="1" height="53.49"/><rect x="221" y="361.14" width="1" height="53.59"/><rect x="222" y="361.93" width="1" height="51.34"/><rect x="223" y="364.81" width="1" height="47.09"/><rect x="224" y="363.60" width="1" height="46.70"/><rect x="225" y="363.46" width="1" height="49.13"/><rect x="226" y="364.53" width="1" height="47.83"/><rect x="227" y="363.65" width="1" height="47.77"/><rect x="228" y="364.18" width="1" height="46.66"/><rect x="229" y="364.66" width="1" height="46.67"/><rect x="230" y="366.32" width="1" height="43.91"/><rect x="231" y="366.70" width="1" height="43.43"/><rect x="232" y="368.31" width="1" height="39.20"/><rect x="233" y="368.06" width="1" height="40.82"/><rect x="234" y="367.44" width="1" height="40.90"/><rect x="235" y="370.91" width="1" height="36.44"/><rect x="236" y="369.96" width="1" height="37.44"/><rect x="237" y="369.87" width="1" height="36.11"/><rect x="238" y="371.27" width="1" height="33.25"/><rect x="239" y="371.88" width="1" height="33.30"/><rect x="240" y="372.15" width="1" height="31.50"/><rect x="241" y="372.32" width="1" height="29.71"/><rect x="242" y="373.41" width="1" height="27.76"/><rect x="243" y="373.72" width="1" height="28.40"/><rect x="244" y="374.03" width="1" height="26.54"/><rect x="245" y="375.91" width="1" height="25.39"/><rect x="246" y="376.30" width="1" height="22.97"/><rect x="247" y="375.76" width="1" height="24.53"/><rect x="248" y="376.98" width="1" height="21.78"/><rect x="249" y="378.45" width="1" height="20.49"/><rect x="250" y="377.85" width="1" height="20.23"/><rect x="251" y="378.28" width="1" height="19.60"/><rect x="252" y="378.85" width="1" height="18.44"/><rect x="253" y="379.70" width="1" height="17.73"/><rect x="254" y="379.39" width="1" height="16.78"/><rect x="255" y="379.68" width="1" height="16.97"/><rect x="256" y="380.02" width="1" height="15.51"/><rect x="257" y="380.14" width="1" height="15.68"/><rect x="258" y="380.64" width="1" height="14.75"/><rect x="259" y="380.90" width="1" height="14.14"/><rect x="260" y="381.18" width="1" height="13.43"/><rect x="261" y="381.75" width="1" height="12.71"/><rect x="262" y="382.00" width="1" height="11.94"/><rect x="263" y="381.97" width="1" height="12.22"/><rect x="264" y="382.44" width="1" height="11.36"/><rect x="265" y="382.51" width="1" height="11.13"/><rect x="266" y="382.60" width="1" height="10.87"/><rect x="267" y="383.37" width="1" height="9.38"/><rect x="268" y="383.63" width="1" height="9.23"/><rect x="269" y="383.33" width="1" height="9.58"/><rect x="270" y="383.60" width="1" height="8.91"/><rect x="271" y="383.93" width="1" height="8.43"/><rect x="272" y="383.91" width="1" height="8.05"/><rect x="273" y="384.12" width="1" height="7.92"/><rect x="274" y="384.23" width="1" height="7.53"/><rect x="275" y="384.31" width="1" height="7.28"/><rect x="276" y="384.70" width="1" height="6.87"/><rect x="277" y="384.77" width="1" height="6.47"/><rect x="278" y="384.88" width="1" height="6.20"/><rect x="279" y="385.41" width="1" height="5.52"/><rect x="280" y="385.20" width="1" height="5.42"/><rect x="281" y="385.32" width="1" height="5.34"/><rect x="282" y="385.44" width="1" height="5.19"/><rect x="283" y="385.63" width="1" height="4.76"/><rect x="284" y="385.73" width="1" height="4.63"/><rect x="285" y="386.09" width="1" height="3.89"/><rect x="286" y="386.06" width="1" height="4.05"/><rect x="287" y="386.18" width="1" height="3.81"/><rect x="288" y="386.22" width="1" height="3.64"/><rect x="289" y="386.32" width="1" height="3.41"/><rect x="290" y="386.50" width="1" height="3.15"/><rect x="291" y="386.58" width="1" height="2.93"/><rect x="292" y="386.61" width="1" height="2.88"/><rect x="293" y="386.70" width="1" height="2.61"/><rect x="294" y="386.81" width="1" height="2.46"/><rect x="295" y="386.89" width="1" height="2.18"/><rect x="296" y="387.08" width="1" height="2.03"/><rect x="297" y="387.02" width="1" height="2.01"/><rect x="298" y="387.08" width="1" height="1.93"/><rect x="299" y="387.26" width="1" height="1.71"/><rect x="300" y="387.27" width="1" height="1.62"/><rect x="301" y="387.25" width="1" height="1.58"/><rect x="302" y="387.34" width="1" height="1.46"/><rect x="303" y="387.36" width="1" height="1.34"/><rect x="304" y="387.42" width="1" height="1.26"/><rect x="305" y="387.48" width="1" height="1.18"/><rect x="306" y="387.48" width="1" height="1.14"/><rect x="307" y="387.56" width="1" height="1.01"/><rect x="308" y="387.59" width="1" height="0.96"/><rect x="309" y="387.61" width="1" height="0.92"/><rect x="310" y="387.61" width="1" height="0.86"/><rect x="311" y="387.67" width="1" height="0.79"/><rect x="312" y="387.66" width="1" height="0.78"/><rect x="313" y="387.70" width="1" height="0.72"/><rect x="314" y="387.71" width="1" height="0.69"/><rect x="315" y="387.74" width="1" height="0.62"/><rect x="316" y="387.79" width="1" height="0.60"/><rect x="317" y="387.79" width="1" height="0.60"/><rect x="318" y="387.82" width="1" height="0.60"/><rect x="319" y="387.83" width="1" height="0.60"/><rect x="320" y="387.85" width="1" height="0.60"/><rect x="321" y="387.87" width="1" height="0.60"/><rect x="322" y="387.89" width="1" height="0.60"/><rect x="323" y="387.91" width="1" height="0.60"/></g>
<path d="M115.5,383.19v3.03M116.5,393.43v-1.39M117.5,382.90v2.86M117.5,393.70v-2.30M118.5,382.34v2.10M119.5,394.12v-2.35M120.5,381.57v4.20M121.5,394.54v-4.32M122.5,381.64v3.10M125.5,380.54v2.95M128.5,378.79v4.16M130.5,377.73v7.70M131.5,398.84v-5.99M133.5,400.26v-4.51M134.5,400.69v-6.81M137.5,373.71v5.87M139.5,372.05v11.22M140.5,402.88v-10.04M141.5,404.65v-11.84M142.5,372.15v12.16M142.5,404.47v-10.61M145.5,368.17v14.11M145.5,405.33v-8.22M148.5,366.10v10.72M149.5,366.42v16.47M151.5,363.66v15.56M152.5,364.24v7.81M152.5,410.83v-16.51M153.5,363.33v9.29M154.5,361.30v17.70M157.5,416.67v-13.12M159.5,418.51v-8.70M161.5,358.18v15.01M162.5,355.58v15.07M165.5,356.97v10.00M166.5,422.28v-23.31M167.5,419.46v-22.61M168.5,351.10v27.17M170.5,351.41v14.34M170.5,425.61v-15.00M171.5,423.55v-28.48M175.5,348.55v11.93M176.5,425.80v-19.14M177.5,425.98v-19.23M180.5,349.51v25.48M181.5,426.81v-29.56M182.5,348.51v11.64M186.5,424.95v-26.34M188.5,425.82v-20.06M190.5,352.32v15.50M190.5,420.66v-14.76M191.5,352.91v11.32M192.5,352.51v23.81M193.5,354.32v9.86M193.5,419.01v-12.97M196.5,353.16v18.05M196.5,420.94v-10.05M197.5,355.77v14.77M197.5,422.36v-18.22M199.5,417.35v-14.57M200.5,421.35v-10.82M201.5,356.38v9.06M203.5,420.29v-17.76M205.5,356.81v19.74M206.5,417.93v-8.87M208.5,359.80v11.16M209.5,361.19v21.95M212.5,359.24v15.07M212.5,417.90v-16.68M213.5,416.65v-10.48M214.5,358.87v20.48M215.5,359.51v8.69M215.5,415.80v-21.37M216.5,359.95v15.89M217.5,360.75v10.25M219.5,361.84v17.01M219.5,415.52v-20.87M220.5,361.16v19.44M220.5,414.65v-14.52M221.5,361.14v6.97M221.5,414.73v-14.90M222.5,361.93v19.65M222.5,413.28v-9.10M223.5,364.81v17.63M223.5,411.90v-8.83M226.5,364.53v7.20M226.5,412.36v-16.62M227.5,363.65v6.85M227.5,411.42v-13.94M228.5,364.18v15.60M228.5,410.84v-7.55M229.5,411.33v-7.71M230.5,366.32v12.90M231.5,410.12v-12.68M232.5,368.31v7.62M232.5,407.51v-10.42M233.5,368.06v13.52M233.5,408.88v-13.57M234.5,367.44v14.42M235.5,370.91v11.13M235.5,407.35v-11.98M237.5,369.87v12.13M237.5,405.98v-11.28M238.5,371.27v9.56M239.5,371.88v7.57M240.5,403.65v-9.12M243.5,373.72v7.61M245.5,401.30v-6.47M247.5,375.76v3.23M249.5,398.95v-5.12M250.5,398.09v-4.08M254.5,396.17v-5.41M256.5,395.53v-3.08M257.5,380.14v5.27M258.5,380.64v2.09M266.5,382.60v2.82M268.5,383.63v3.54M270.5,392.52v-2.59M271.5,392.36v-1.49M272.5,383.91v2.73" stroke="#fff" stroke-opacity="0.18" stroke-width="0.8" shape-rendering="crispEdges"/>
<polygon points="47.50,387.51 48.00,387.51 48.50,387.51 49.00,387.51 49.50,387.50 50.00,387.50 50.50,387.50 51.00,387.50 51.50,387.50 52.00,387.50 52.50,387.49 53.00,387.49 53.50,387.49 54.00,387.49 54.50,387.49 55.00,387.48 55.50,387.48 56.00,387.48 56.50,387.48 57.00,387.48 57.50,387.47 58.00,387.47 58.50,387.47 59.00,387.47 59.50,387.46 60.00,387.46 60.50,387.46 61.00,387.46 61.50,387.45 62.00,387.45 62.50,387.45 63.00,387.45 63.50,387.44 64.00,387.44 64.50,387.44 65.00,387.44 65.50,387.43 66.00,387.43 66.50,387.43 67.00,387.42 67.50,387.42 68.00,387.42 68.50,387.41 69.00,387.41 69.50,387.41 70.00,387.40 70.50,387.40 71.00,387.40 71.50,387.39 72.00,387.39 72.50,387.39 73.00,387.38 73.50,387.38 74.00,387.37 74.50,387.37 75.00,387.37 75.50,387.36 76.00,387.36 76.50,387.35 77.00,387.35 77.50,387.34 78.00,387.34 78.50,387.34 79.00,387.33 79.50,387.33 80.00,387.32 80.50,387.32 81.00,387.31 81.50,387.31 82.00,387.30 82.50,387.30 83.00,387.29 83.50,387.29 84.00,387.28 84.50,387.27 85.00,387.27 85.50,387.26 86.00,387.26 86.50,387.25 87.00,387.24 87.50,387.24 88.00,387.23 88.50,387.23 89.00,387.22 89.50,387.21 90.00,387.21 90.50,387.20 91.00,387.19 91.50,387.18 92.00,387.18 92.50,387.17 93.00,387.16 93.50,387.15 94.00,387.15 94.50,387.14 95.00,387.13 95.50,387.12 96.00,387.11 96.50,387.11 97.00,387.10 97.50,387.09 98.00,387.08 98.50,387.07 99.00,387.06 99.50,387.05 100.00,387.04 100.50,387.03 101.00,387.02 101.50,387.01 102.00,387.00 102.50,386.99 103.00,386.98 103.50,386.97 104.00,386.96 104.50,386.95 105.00,386.94 105.50,386.93 106.00,386.92 106.50,386.90 107.00,386.89 107.50,386.88 108.00,386.87 108.50,386.85 109.00,386.84 109.50,386.83 110.00,386.82 110.50,386.80 111.00,386.79 111.50,386.78 112.00,386.76 112.50,386.75 113.00,386.73 113.50,386.72 114.00,386.70 114.50,386.69 115.00,386.67 115.50,386.66 116.00,386.64 116.50,386.62 117.00,386.61 117.50,386.59 118.00,386.57 118.50,386.56 119.00,386.54 119.50,386.52 120.00,386.50 120.50,386.48 121.00,386.47 121.50,386.45 122.00,386.43 122.50,386.41 123.00,386.39 123.50,386.37 124.00,386.35 124.50,386.33 125.00,386.31 125.50,386.28 126.00,386.26 126.50,386.24 127.00,386.22 127.50,386.20 128.00,386.17 128.50,386.15 129.00,386.13 129.50,386.10 130.00,386.08 130.50,386.05 131.00,386.03 131.50,386.00 132.00,385.98 132.50,385.95 133.00,385.93 133.50,385.90 134.00,385.87 134.50,385.84 135.00,385.82 135.50,385.79 136.00,385.76 136.50,385.73 137.00,385.70 137.50,385.67 138.00,385.64 138.50,385.61 139.00,385.58 139.50,385.55 140.00,385.52 140.50,385.49 141.00,385.46 141.50,385.43 142.00,385.39 142.50,385.36 143.00,385.33 143.50,385.30 144.00,385.26 144.50,385.23 145.00,385.19 145.50,385.16 146.00,385.13 146.50,385.09 147.00,385.06 147.50,385.02 148.00,384.99 148.50,384.95 149.00,384.92 149.50,384.88 150.00,384.84 150.50,384.81 151.00,384.77 151.50,384.74 152.00,384.70 152.50,384.67 153.00,384.63 153.50,384.60 154.00,384.56 154.50,384.53 155.00,384.49 155.50,384.46 156.00,384.42 156.50,384.39 157.00,384.35 157.50,384.32 158.00,384.29 158.50,384.26 159.00,384.23 159.50,384.19 160.00,384.16 160.50,384.14 161.00,384.11 161.50,384.08 162.00,384.05 162.50,384.03 163.00,384.00 163.50,383.98 164.00,383.96 164.50,383.94 165.00,383.92 165.50,383.90 166.00,383.88 166.50,383.87 167.00,383.85 167.50,383.84 168.00,383.83 168.50,383.82 169.00,383.81 169.50,383.81 170.00,383.80 170.50,383.80 171.00,383.80 171.50,383.80 172.00,383.80 172.50,383.81 173.00,383.82 173.50,383.83 174.00,383.84 174.50,383.85 175.00,383.87 175.50,383.89 176.00,383.90 176.50,383.93 177.00,383.95 177.50,383.97 178.00,384.00 178.50,384.03 179.00,384.06 179.50,384.09 180.00,384.12 180.50,384.15 181.00,384.19 181.50,384.22 182.00,384.26 182.50,384.30 183.00,384.33 183.50,384.37 184.00,384.41 184.50,384.45 185.00,384.49 185.50,384.53 186.00,384.57 186.50,384.61 187.00,384.66 187.50,384.70 188.00,384.74 188.50,384.78 189.00,384.82 189.50,384.87 190.00,384.91 190.50,384.95 191.00,384.99 191.50,385.03 192.00,385.08 192.50,385.12 193.00,385.16 193.50,385.20 194.00,385.24 194.50,385.28 195.00,385.32 195.50,385.36 196.00,385.40 196.50,385.44 197.00,385.48 197.50,385.51 198.00,385.55 198.50,385.59 199.00,385.63 199.50,385.66 200.00,385.70 200.50,385.73 201.00,385.77 201.50,385.80 202.00,385.84 202.50,385.87 203.00,385.90 203.50,385.94 204.00,385.97 204.50,386.00 205.00,386.03 205.50,386.06 206.00,386.09 206.50,386.12 207.00,386.15 207.50,386.18 208.00,386.21 208.50,386.23 209.00,386.26 209.50,386.29 210.00,386.31 210.50,386.34 211.00,386.36 211.50,386.39 212.00,386.41 212.50,386.44 213.00,386.46 213.50,386.48 214.00,386.51 214.50,386.53 215.00,386.55 215.50,386.57 216.00,386.59 216.50,386.61 217.00,386.64 217.50,386.66 218.00,386.67 218.50,386.69 219.00,386.71 219.50,386.73 220.00,386.75 220.50,386.77 221.00,386.78 221.50,386.80 222.00,386.82 222.50,386.83 223.00,386.85 223.50,386.87 224.00,386.88 224.50,386.90 225.00,386.91 225.50,386.93 226.00,386.94 226.50,386.95 227.00,386.97 227.50,386.98 228.00,386.99 228.50,387.01 229.00,387.02 229.50,387.03 230.00,387.04 230.50,387.06 231.00,387.07 231.50,387.08 232.00,387.09 232.50,387.10 233.00,387.11 233.50,387.12 234.00,387.13 234.50,387.14 235.00,387.15 235.50,387.16 236.00,387.17 236.50,387.18 237.00,387.19 237.50,387.20 238.00,387.21 238.50,387.22 239.00,387.22 239.50,387.23 240.00,387.24 240.50,387.25 241.00,387.26 241.50,387.26 242.00,387.27 242.50,387.28 243.00,387.28 243.50,387.29 244.00,387.30 244.50,387.30 245.00,387.31 245.50,387.32 246.00,387.32 246.50,387.33 247.00,387.34 247.50,387.34 248.00,387.35 248.50,387.35 249.00,387.36 249.50,387.36 250.00,387.37 250.50,387.37 251.00,387.38 251.50,387.38 252.00,387.39 252.50,387.39 253.00,387.40 253.50,387.40 254.00,387.41 254.50,387.41 255.00,387.41 255.50,387.42 256.00,387.42 256.50,387.43 257.00,387.43 257.50,387.43 258.00,387.44 258.50,387.44 259.00,387.44 259.50,387.45 260.00,387.45 260.50,387.45 261.00,387.46 261.50,387.46 262.00,387.46 262.50,387.47 263.00,387.47 263.50,387.47 264.00,387.48 264.50,387.48 265.00,387.48 265.50,387.48 266.00,387.49 266.50,387.49 267.00,387.49 267.50,387.49 268.00,387.50 268.50,387.50 269.00,387.50 269.50,387.50 270.00,387.50 270.50,387.51 271.00,387.51 271.50,387.51 272.00,387.51 272.50,387.51 273.00,387.52 273.50,387.52 274.00,387.52 274.50,387.52 275.00,387.52 275.50,387.53 276.00,387.53 276.50,387.53 277.00,387.53 277.50,387.53 278.00,387.53 278.50,387.53 279.00,387.54 279.50,387.54 280.00,387.54 280.50,387.54 281.00,387.54 281.50,387.54 282.00,387.54 282.50,387.55 283.00,387.55 283.50,387.55 284.00,387.55 284.50,387.55 285.00,387.55 285.50,387.55 286.00,387.55 286.50,387.55 287.00,387.56 287.50,387.56 288.00,387.56 288.50,387.56 289.00,387.56 289.50,387.56 290.00,387.56 290.50,387.56 291.00,387.56 291.50,387.56 292.00,387.56 292.50,387.57 293.00,387.57 293.50,387.57 294.00,387.57 294.50,387.57 295.00,387.57 295.50,387.57 296.00,387.57 296.50,387.57 297.00,387.57 297.50,387.57 298.00,387.57 298.50,387.57 299.00,387.57 299.50,387.57 300.00,387.58 300.50,387.58 301.00,387.58 301.50,387.58 302.00,387.58 302.50,387.58 303.00,387.58 303.50,387.58 304.00,387.58 304.50,387.58 305.00,387.58 305.50,387.58 306.00,387.58 306.50,387.58 307.00,387.58 307.50,387.58 308.00,387.58 308.50,387.58 309.00,387.58 309.50,387.58 310.00,387.58 310.50,387.58 311.00,387.58 311.50,387.59 312.00,387.59 312.50,387.59 313.00,387.59 313.50,387.59 314.00,387.59 314.50,387.59 315.00,387.59 315.50,387.59 316.00,387.59 316.50,387.59 317.00,387.59 317.50,387.59 318.00,387.59 318.50,387.59 319.00,387.59 319.50,387.59 320.00,387.59 320.50,387.59 321.00,387.59 321.50,387.59 322.00,387.59 322.50,387.59 323.00,387.59 323.50,387.59 324.00,387.59 324.50,387.59 325.00,387.59 325.50,387.59 326.00,387.59 326.50,387.59 327.00,387.59 327.50,387.59 328.00,387.59 328.50,387.59 329.00,387.59 329.50,387.59 330.00,387.59 330.50,387.59 331.00,387.59 331.50,387.59 332.00,387.59 332.50,387.59 333.00,387.59 333.50,387.59 334.00,387.59 334.50,387.59 335.00,387.59 335.50,387.59 336.00,387.60 336.50,387.60 337.00,387.60 337.50,387.60 338.00,387.60 338.50,387.60 339.00,387.60 339.50,387.60 340.00,387.60 340.50,387.60 341.00,387.60 341.50,387.60 342.00,387.60 342.50,387.60 343.00,387.60 343.50,387.60 344.00,387.60 344.50,387.60 345.00,387.60 345.50,387.60 346.00,387.60 346.50,387.60 347.00,387.60 347.50,387.60 347.50,388.50 347.00,388.50 346.50,388.50 346.00,388.50 345.50,388.50 345.00,388.50 344.50,388.50 344.00,388.50 343.50,388.50 343.00,388.50 342.50,388.50 342.00,388.50 341.50,388.50 341.00,388.50 340.50,388.50 340.00,388.50 339.50,388.50 339.00,388.50 338.50,388.50 338.00,388.50 337.50,388.50 337.00,388.50 336.50,388.50 336.00,388.50 335.50,388.51 335.00,388.51 334.50,388.51 334.00,388.51 333.50,388.51 333.00,388.51 332.50,388.51 332.00,388.51 331.50,388.51 331.00,388.51 330.50,388.51 330.00,388.51 329.50,388.51 329.00,388.51 328.50,388.51 328.00,388.51 327.50,388.51 327.00,388.51 326.50,388.51 326.00,388.51 325.50,388.51 325.00,388.51 324.50,388.51 324.00,388.51 323.50,388.51 323.00,388.51 322.50,388.51 322.00,388.51 321.50,388.51 321.00,388.51 320.50,388.51 320.00,388.51 319.50,388.51 319.00,388.51 318.50,388.51 318.00,388.51 317.50,388.51 317.00,388.51 316.50,388.51 316.00,388.51 315.50,388.51 315.00,388.51 314.50,388.51 314.00,388.51 313.50,388.51 313.00,388.51 312.50,388.51 312.00,388.51 311.50,388.51 311.00,388.52 310.50,388.52 310.00,388.52 309.50,388.52 309.00,388.52 308.50,388.52 308.00,388.52 307.50,388.52 307.00,388.52 306.50,388.52 306.00,388.52 305.50,388.52 305.00,388.52 304.50,388.52 304.00,388.52 303.50,388.52 303.00,388.52 302.50,388.52 302.00,388.52 301.50,388.52 301.00,388.52 300.50,388.52 300.00,388.52 299.50,388.53 299.00,388.53 298.50,388.53 298.00,388.53 297.50,388.53 297.00,388.53 296.50,388.53 296.00,388.53 295.50,388.53 295.00,388.53 294.50,388.53 294.00,388.53 293.50,388.53 293.00,388.53 292.50,388.53 292.00,388.54 291.50,388.54 291.00,388.54 290.50,388.54 290.00,388.54 289.50,388.54 289.00,388.54 288.50,388.54 288.00,388.54 287.50,388.54 287.00,388.54 286.50,388.55 286.00,388.55 285.50,388.55 285.00,388.55 284.50,388.55 284.00,388.55 283.50,388.55 283.00,388.55 282.50,388.55 282.00,388.56 281.50,388.56 281.00,388.56 280.50,388.56 280.00,388.56 279.50,388.56 279.00,388.56 278.50,388.57 278.00,388.57 277.50,388.57 277.00,388.57 276.50,388.57 276.00,388.57 275.50,388.57 275.00,388.58 274.50,388.58 274.00,388.58 273.50,388.58 273.00,388.58 272.50,388.59 272.00,388.59 271.50,388.59 271.00,388.59 270.50,388.59 270.00,388.60 269.50,388.60 269.00,388.60 268.50,388.60 268.00,388.60 267.50,388.61 267.00,388.61 266.50,388.61 266.00,388.61 265.50,388.62 265.00,388.62 264.50,388.62 264.00,388.62 263.50,388.63 263.00,388.63 262.50,388.63 262.00,388.64 261.50,388.64 261.00,388.64 260.50,388.65 260.00,388.65 259.50,388.65 259.00,388.66 258.50,388.66 258.00,388.66 257.50,388.67 257.00,388.67 256.50,388.67 256.00,388.68 255.50,388.68 255.00,388.69 254.50,388.69 254.00,388.69 253.50,388.70 253.00,388.70 252.50,388.71 252.00,388.71 251.50,388.72 251.00,388.72 250.50,388.73 250.00,388.73 249.50,388.74 249.00,388.74 248.50,388.75 248.00,388.75 247.50,388.76 247.00,388.76 246.50,388.77 246.00,388.78 245.50,388.78 245.00,388.79 244.50,388.80 244.00,388.80 243.50,388.81 243.00,388.82 242.50,388.82 242.00,388.83 241.50,388.84 241.00,388.84 240.50,388.85 240.00,388.86 239.50,388.87 239.00,388.88 238.50,388.88 238.00,388.89 237.50,388.90 237.00,388.91 236.50,388.92 236.00,388.93 235.50,388.94 235.00,388.95 234.50,388.96 234.00,388.97 233.50,388.98 233.00,388.99 232.50,389.00 232.00,389.01 231.50,389.02 231.00,389.03 230.50,389.04 230.00,389.06 229.50,389.07 229.00,389.08 228.50,389.09 228.00,389.11 227.50,389.12 227.00,389.13 226.50,389.15 226.00,389.16 225.50,389.17 225.00,389.19 224.50,389.20 224.00,389.22 223.50,389.23 223.00,389.25 222.50,389.27 222.00,389.28 221.50,389.30 221.00,389.32 220.50,389.33 220.00,389.35 219.50,389.37 219.00,389.39 218.50,389.41 218.00,389.43 217.50,389.44 217.00,389.46 216.50,389.49 216.00,389.51 215.50,389.53 215.00,389.55 214.50,389.57 214.00,389.59 213.50,389.62 213.00,389.64 212.50,389.66 212.00,389.69 211.50,389.71 211.00,389.74 210.50,389.76 210.00,389.79 209.50,389.81 209.00,389.84 208.50,389.87 208.00,389.89 207.50,389.92 207.00,389.95 206.50,389.98 206.00,390.01 205.50,390.04 205.00,390.07 204.50,390.10 204.00,390.13 203.50,390.16 203.00,390.20 202.50,390.23 202.00,390.26 201.50,390.30 201.00,390.33 200.50,390.37 200.00,390.40 199.50,390.44 199.00,390.47 198.50,390.51 198.00,390.55 197.50,390.59 197.00,390.62 196.50,390.66 196.00,390.70 195.50,390.74 195.00,390.78 194.50,390.82 194.00,390.86 193.50,390.90 193.00,390.94 192.50,390.98 192.00,391.02 191.50,391.07 191.00,391.11 190.50,391.15 190.00,391.19 189.50,391.23 189.00,391.28 188.50,391.32 188.00,391.36 187.50,391.40 187.00,391.44 186.50,391.49 186.00,391.53 185.50,391.57 185.00,391.61 184.50,391.65 184.00,391.69 183.50,391.73 183.00,391.77 182.50,391.80 182.00,391.84 181.50,391.88 181.00,391.91 180.50,391.95 180.00,391.98 179.50,392.01 179.00,392.04 178.50,392.07 178.00,392.10 177.50,392.13 177.00,392.15 176.50,392.17 176.00,392.20 175.50,392.21 175.00,392.23 174.50,392.25 174.00,392.26 173.50,392.27 173.00,392.28 172.50,392.29 172.00,392.30 171.50,392.30 171.00,392.30 170.50,392.30 170.00,392.30 169.50,392.29 169.00,392.29 168.50,392.28 168.00,392.27 167.50,392.26 167.00,392.25 166.50,392.23 166.00,392.22 165.50,392.20 165.00,392.18 164.50,392.16 164.00,392.14 163.50,392.12 163.00,392.10 162.50,392.07 162.00,392.05 161.50,392.02 161.00,391.99 160.50,391.96 160.00,391.94 159.50,391.91 159.00,391.87 158.50,391.84 158.00,391.81 157.50,391.78 157.00,391.75 156.50,391.71 156.00,391.68 155.50,391.64 155.00,391.61 154.50,391.57 154.00,391.54 153.50,391.50 153.00,391.47 152.50,391.43 152.00,391.40 151.50,391.36 151.00,391.33 150.50,391.29 150.00,391.26 149.50,391.22 149.00,391.18 148.50,391.15 148.00,391.11 147.50,391.08 147.00,391.04 146.50,391.01 146.00,390.97 145.50,390.94 145.00,390.91 144.50,390.87 144.00,390.84 143.50,390.80 143.00,390.77 142.50,390.74 142.00,390.71 141.50,390.67 141.00,390.64 140.50,390.61 140.00,390.58 139.50,390.55 139.00,390.52 138.50,390.49 138.00,390.46 137.50,390.43 137.00,390.40 136.50,390.37 136.00,390.34 135.50,390.31 135.00,390.28 134.50,390.26 134.00,390.23 133.50,390.20 133.00,390.17 132.50,390.15 132.00,390.12 131.50,390.10 131.00,390.07 130.50,390.05 130.00,390.02 129.50,390.00 129.00,389.97 128.50,389.95 128.00,389.93 127.50,389.90 127.00,389.88 126.50,389.86 126.00,389.84 125.50,389.82 125.00,389.79 124.50,389.77 124.00,389.75 123.50,389.73 123.00,389.71 122.50,389.69 122.00,389.67 121.50,389.65 121.00,389.63 120.50,389.62 120.00,389.60 119.50,389.58 119.00,389.56 118.50,389.54 118.00,389.53 117.50,389.51 117.00,389.49 116.50,389.48 116.00,389.46 115.50,389.44 115.00,389.43 114.50,389.41 114.00,389.40 113.50,389.38 113.00,389.37 112.50,389.35 112.00,389.34 111.50,389.32 111.00,389.31 110.50,389.30 110.00,389.28 109.50,389.27 109.00,389.26 108.50,389.25 108.00,389.23 107.50,389.22 107.00,389.21 106.50,389.20 106.00,389.18 105.50,389.17 105.00,389.16 104.50,389.15 104.00,389.14 103.50,389.13 103.00,389.12 102.50,389.11 102.00,389.10 101.50,389.09 101.00,389.08 100.50,389.07 100.00,389.06 99.50,389.05 99.00,389.04 98.50,389.03 98.00,389.02 97.50,389.01 97.00,389.00 96.50,388.99 96.00,388.99 95.50,388.98 95.00,388.97 94.50,388.96 94.00,388.95 93.50,388.95 93.00,388.94 92.50,388.93 92.00,388.92 91.50,388.92 91.00,388.91 90.50,388.90 90.00,388.89 89.50,388.89 89.00,388.88 88.50,388.87 88.00,388.87 87.50,388.86 87.00,388.86 86.50,388.85 86.00,388.84 85.50,388.84 85.00,388.83 84.50,388.83 84.00,388.82 83.50,388.81 83.00,388.81 82.50,388.80 82.00,388.80 81.50,388.79 81.00,388.79 80.50,388.78 80.00,388.78 79.50,388.77 79.00,388.77 78.50,388.76 78.00,388.76 77.50,388.76 77.00,388.75 76.50,388.75 76.00,388.74 75.50,388.74 75.00,388.73 74.50,388.73 74.00,388.73 73.50,388.72 73.00,388.72 72.50,388.71 72.00,388.71 71.50,388.71 71.00,388.70 70.50,388.70 70.00,388.70 69.50,388.69 69.00,388.69 68.50,388.69 68.00,388.68 67.50,388.68 67.00,388.68 66.50,388.67 66.00,388.67 65.50,388.67 65.00,388.66 64.50,388.66 64.00,388.66 63.50,388.66 63.00,388.65 62.50,388.65 62.00,388.65 61.50,388.65 61.00,388.64 60.50,388.64 60.00,388.64 59.50,388.64 59.00,388.63 58.50,388.63 58.00,388.63 57.50,388.63 57.00,388.62 56.50,388.62 56.00,388.62 55.50,388.62 55.00,388.62 54.50,388.61 54.00,388.61 53.50,388.61 53.00,388.61 52.50,388.61 52.00,388.60 51.50,388.60 51.00,388.60 50.50,388.60 50.00,388.60 49.50,388.60 49.00,388.59 48.50,388.59 48.00,388.59 47.50,388.59" fill="#0000ff"/>
<line x1="274" y1="209.5" x2="306" y2="209.5" stroke="#ff4040" stroke-width="1.3"/>
<text x="308.5" y="214" font-size="13.5">800 nm</text>
<line x1="274" y1="226.8" x2="306" y2="226.8" stroke="#4040ff" stroke-width="1.4"/>
<text x="308.5" y="230.6" font-size="13.5">400 nm</text>
<text transform="translate(13,321.8) rotate(-90)" text-anchor="middle" font-size="14">Electric field, arb. un.</text>
<text x="197.6" y="466.4" text-anchor="middle" font-size="13.3">Time, fs</text>
<line x1="207.5" y1="258" x2="207.5" y2="341.2" stroke="#ff8000" stroke-width="2"/>
<line x1="171.1" y1="315.3" x2="171.1" y2="384.2" stroke="#ff8000" stroke-width="2"/>
<line x1="176" y1="333.4" x2="275" y2="333.4" stroke="#222" stroke-width="1.3"/>
<path d="M170.8,333.4 L178,329.8 L177,333.4 L178,337 Z" fill="#000" stroke="#000" stroke-width="0.4" stroke-linejoin="round"/>
<circle cx="207" cy="333.3" r="3.4" fill="#000"/>
<text x="211.4" y="331" font-size="13.8" textLength="142.2" lengthAdjust="spacingAndGlyphs">group delay compensation</text></svg></body></html>
